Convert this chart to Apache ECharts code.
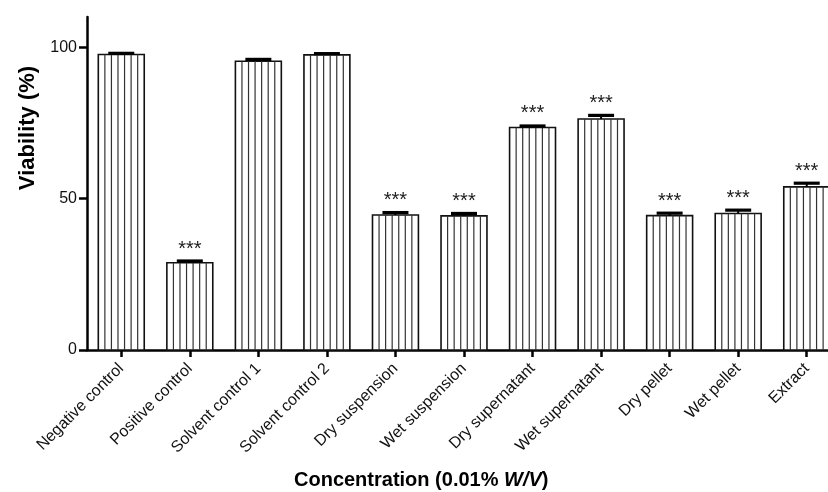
<!DOCTYPE html>
<html>
<head>
<meta charset="utf-8">
<script src="https://cdn.jsdelivr.net/npm/echarts@6/dist/echarts.min.js"></script>
<style>
html,body{margin:0;padding:0;background:#fff;}
#chart{width:828px;height:492px;}
</style>
</head>
<body>
<div id="chart"></div>
<script>
const categories = ['Negative control','Positive control','Solvent control 1','Solvent control 2','Dry suspension','Wet suspension','Dry supernatant','Wet supernatant','Dry pellet','Wet pellet','Extract'];
const viability = [97.6, 28.8, 95.4, 97.5, 44.6, 44.3, 73.5, 76.3, 44.4, 45.1, 53.9];
const errors = [0.4, 0.6, 0.6, 0.4, 0.8, 0.8, 0.5, 1.2, 0.8, 1.1, 1.2];
const significance = ['', '***', '', '', '***', '***', '***', '***', '***', '***', '***'];
const yTicks = [0, 50, 100];

const FONT = '"Liberation Sans", Arial, sans-serif';

function renderBar(params, api) {
  const idx = api.value(0);
  const v = api.value(1);
  const err = api.value(2);
  const base = api.coord([idx, 0]);
  const top = api.coord([idx, v]);
  const cap = api.coord([idx, v + err]);
  const bw = api.size([1, 0])[0] * 0.67;
  const x0 = base[0] - bw / 2;
  const children = [{
    type: 'rect',
    shape: {x: x0, y: top[1], width: bw, height: base[1] - top[1]},
    style: {fill: '#fff', stroke: '#111', lineWidth: 1.6}
  }];
  for (let k = 1; k < 7; k++) {
    const x = x0 + bw * k / 7;
    children.push({type: 'line', shape: {x1: x, y1: top[1], x2: x, y2: base[1]}, style: {stroke: '#333', lineWidth: 1.2}});
  }
  children.push({type: 'line', shape: {x1: base[0], y1: top[1], x2: base[0], y2: cap[1]}, style: {stroke: '#000', lineWidth: 2}});
  children.push({type: 'line', shape: {x1: base[0] - 13, y1: cap[1], x2: base[0] + 13, y2: cap[1]}, style: {stroke: '#000', lineWidth: 3.2}});
  const sig = significance[params.dataIndex];
  if (sig) {
    children.push({type: 'text', style: {text: sig, x: base[0], y: cap[1] - 12, textAlign: 'center', textVerticalAlign: 'middle', font: '20px ' + FONT, fill: '#222'}});
  }
  return {type: 'group', children};
}

const chart = echarts.init(document.getElementById('chart'), null, {renderer: 'canvas'});
chart.setOption({
  animation: false,
  backgroundColor: '#fff',
  grid: {left: 87, width: 754, top: 17, height: 333, containLabel: false, outerBoundsMode: 'none'},
  title: {
    text: '{b|Concentration (0.01% }{i|W/V}{b|)}',
    left: 289, top: 465,
    textStyle: {
      rich: {
        b: {fontFamily: FONT, fontWeight: 'bold', fontSize: 20, color: '#000'},
        i: {fontFamily: FONT, fontWeight: 'bold', fontStyle: 'italic', fontSize: 20, color: '#000'}
      }
    }
  },
  graphic: [{
    type: 'text', x: 28, y: 128, rotation: Math.PI / 2,
    style: {text: 'Viability (%)', textAlign: 'center', textVerticalAlign: 'middle', font: 'bold 22px ' + FONT, fill: '#000'}
  }],
  xAxis: {
    type: 'category',
    data: categories,
    axisLine: {lineStyle: {color: '#000', width: 2.5}},
    axisTick: {show: true, alignWithLabel: true, length: 7, lineStyle: {color: '#000', width: 2.5}},
    axisLabel: {rotate: 45, margin: 16, interval: 0, fontFamily: FONT, fontSize: 16, color: '#111'},
    splitLine: {show: false}
  },
  yAxis: {
    type: 'value',
    min: 0, max: 110, interval: 50,
    axisLine: {show: true, lineStyle: {color: '#000', width: 2.5}},
    axisTick: {show: true, length: 8, lineStyle: {color: '#000', width: 2.5}, customValues: yTicks},
    axisLabel: {margin: 10, fontFamily: FONT, fontSize: 16, color: '#111', customValues: yTicks},
    splitLine: {show: false}
  },
  series: [{
    type: 'custom',
    renderItem: renderBar,
    encode: {x: 0, y: 1},
    data: categories.map((c, i) => [i, viability[i], errors[i]]),
    clip: false,
    z: 3
  }]
});
</script>
</body>
</html>
